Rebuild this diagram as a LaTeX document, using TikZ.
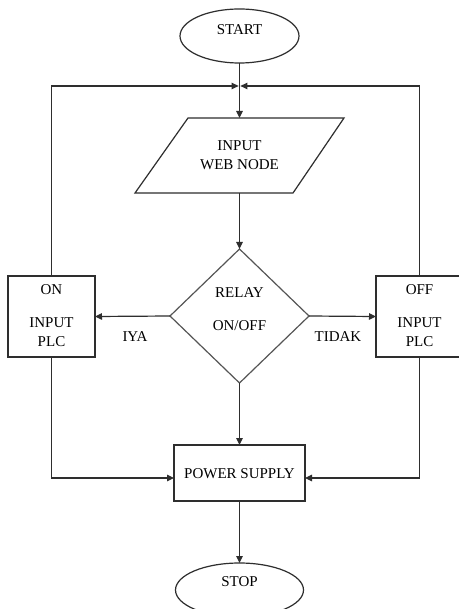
\documentclass[tikz,border=0pt]{standalone}
\usepackage{fontspec}
\setmainfont{Liberation Serif}
\usetikzlibrary{shapes.geometric,arrows.meta}
\definecolor{ln}{HTML}{2E2E2E}
\definecolor{dm}{HTML}{555555}
\begin{document}
\begin{tikzpicture}[x=1pt,y=-1pt,
  every node/.style={inner sep=0pt, outer sep=0pt},
  lbl/.style={font=\fontsize{15}{17}\selectfont, text height=9.9pt, text depth=0pt, text=black},
  term/.style={ellipse, draw=ln, line width=1.2pt},
  proc/.style={rectangle, draw=ln, line width=1.2pt},
  dec/.style={diamond, draw=dm, line width=1.2pt},
  conn/.style={draw=ln, line width=1.2pt},
  arr/.style={conn, -{Triangle[length=7pt,width=6.5pt]}}
]
\useasboundingbox (0,0) rectangle (458,609);
\fill[white] (0,0) rectangle (458,609);

\node[term, minimum width=119, minimum height=54] (start) at (239.5,36) {};
\coordinate (webN) at (239.5,118);
\coordinate (webS) at (239.5,193);
\draw[conn, line join=miter] (188,118) -- (344,118) -- (293,193) -- (135,193) -- cycle;
\node[dec, minimum width=139, minimum height=134] (relay) at (239.5,316) {};
\node[proc, minimum width=87, minimum height=81] (on) at (51.5,316.5) {};
\node[proc, minimum width=87, minimum height=81] (off) at (419.5,316.5) {};
\node[proc, minimum width=131, minimum height=56] (ps) at (239.5,473) {};
\node[term, minimum width=128, minimum height=54] (stop) at (239.5,590) {};

\coordinate (jl) at (238.6,86);
\coordinate (jr) at (240.4,86);
\coordinate (onT) at (51.5,86);
\coordinate (offT) at (419.5,86);
\coordinate (onB) at (51.5,478);
\coordinate (offB) at (419.5,478);
\coordinate (psW) at (174,478);
\coordinate (psE) at (305,478);

\node[lbl] (tstart) at (239.5,30) {START};
\node[lbl] (tweb1) at (239.5,146) {INPUT};
\node[lbl] (tweb2) at (239.5,165) {WEB NODE};
\node[lbl] (trel1) at (239.5,293) {RELAY};
\node[lbl] (trel2) at (239.5,326) {ON/OFF};
\node[lbl] (ton1) at (51.5,290) {ON};
\node[lbl] (ton2) at (51.5,323) {INPUT};
\node[lbl] (ton3) at (51.5,342) {PLC};
\node[lbl] (toff1) at (419.5,290) {OFF};
\node[lbl] (toff2) at (419.5,323) {INPUT};
\node[lbl] (toff3) at (419.5,342) {PLC};
\node[lbl] (tiya) at (135,337) {IYA};
\node[lbl] (ttidak) at (338,337) {TIDAK};
\node[lbl] (tps) at (239.5,474) {POWER SUPPLY};
\node[lbl] (tstop) at (239.5,582) {STOP};

\draw[arr] (start.south) -- (webN);
\draw[arr] (webS) -- (relay.north);
\draw[arr] (relay.west) -- (on.east);
\draw[arr] (relay.east) -- (off.west);
\draw[arr] (relay.south) -- (ps.north);
\draw[arr] (ps.south) -- (stop.north);
\draw[arr] (on.north) -- (onT) -- (jl);
\draw[arr] (off.north) -- (offT) -- (jr);
\draw[arr] (on.south) -- (onB) -- (psW);
\draw[arr] (off.south) -- (offB) -- (psE);
\end{tikzpicture}
\end{document}
